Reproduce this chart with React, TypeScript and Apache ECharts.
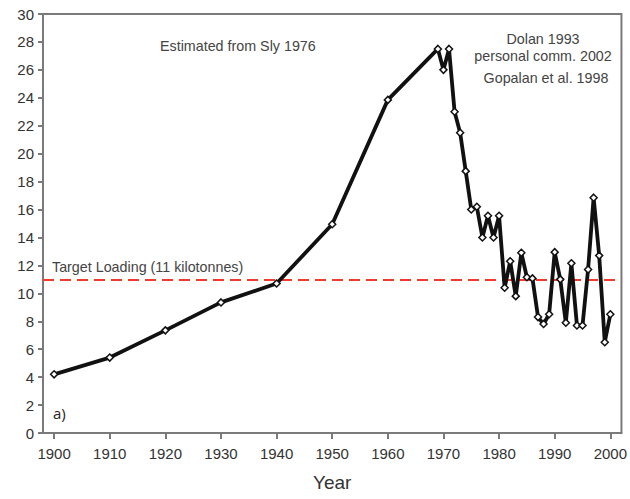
import React, { useEffect, useRef } from "react";
import * as echarts from "echarts";

const years = [1900, 1910, 1920, 1930, 1940, 1950, 1960, 1969, 1970, 1971, 1972, 1973, 1974, 1975, 1976, 1977, 1978, 1979, 1980, 1981, 1982, 1983, 1984, 1985, 1986, 1987, 1988, 1989, 1990, 1991, 1992, 1993, 1994, 1995, 1996, 1997, 1998, 1999, 2000];
const loading = [4.2, 5.4, 7.35, 9.35, 10.7, 14.95, 23.85, 27.5, 26.0, 27.5, 23.0, 21.5, 18.75, 16.0, 16.2, 14.0, 15.55, 14.0, 15.55, 10.4, 12.3, 9.8, 12.9, 11.15, 11.07, 8.3, 7.8, 8.5, 12.95, 11.0, 7.9, 12.15, 7.7, 7.7, 11.7, 16.85, 12.7, 6.5, 8.5];
const xTicks = [1900, 1910, 1920, 1930, 1940, 1950, 1960, 1970, 1980, 1990, 2000];
const targetLoading = 11;

const FONT = "'Liberation Sans', Arial, sans-serif";

export default function App() {
  const ref = useRef<HTMLDivElement>(null);
  useEffect(() => {
    if (!ref.current) return;
    const chart = echarts.init(ref.current, null, { renderer: "svg" });
    const data = years.map((y, i) => [y, loading[i]]);
    chart.setOption({
      animation: false,
      backgroundColor: "#ffffff",
      grid: {
        left: 43,
        top: 14,
        right: 6,
        bottom: 66,
        show: true,
        borderColor: "#7a7a7a",
        borderWidth: 2,
        backgroundColor: "transparent",
      },
      xAxis: {
        type: "value",
        min: 1898,
        max: 2002,
        name: "Year",
        nameLocation: "middle",
        nameGap: 40,
        nameTextStyle: { fontFamily: FONT, fontSize: 19, color: "#333" },
        splitLine: { show: false },
        axisLine: { show: true, lineStyle: { color: "#7a7a7a", width: 2 } },
        axisTick: { show: true, length: 6, lineStyle: { color: "#7a7a7a", width: 2 }, customValues: xTicks },
        axisLabel: { fontFamily: FONT, fontSize: 15, color: "#333", margin: 13, customValues: xTicks, formatter: (v: number) => String(v) },
      },
      yAxis: {
        type: "value",
        min: 0,
        max: 30,
        interval: 2,
        splitLine: { show: false },
        axisLine: { show: true, lineStyle: { color: "#7a7a7a", width: 2 } },
        axisTick: { show: true, length: 5, lineStyle: { color: "#7a7a7a", width: 2 } },
        axisLabel: { fontFamily: FONT, fontSize: 15, color: "#333", margin: 9 },
      },
      series: [
        {
          type: "line",
          data,
          lineStyle: { color: "#111", width: 3.8 },
          symbol: "diamond",
          symbolSize: 7,
          itemStyle: { color: "#ffffff", borderColor: "#111", borderWidth: 1.5 },
          z: 3,
          markLine: {
            silent: true,
            symbol: "none",
            label: { show: false },
            lineStyle: { color: "#f23b30", width: 2, type: [11, 6] },
            data: [{ yAxis: targetLoading }],
            z: 2,
          },
        },
      ],
      graphic: [
        { type: "text", left: 160, top: 39, style: { text: "Estimated from Sly 1976", fontFamily: FONT, fontSize: 14.3, fill: "#444" } },
        { type: "text", x: 543, y: 39, style: { text: "Dolan 1993", fontFamily: FONT, fontSize: 14.3, fill: "#444", align: "center", verticalAlign: "middle" } },
        { type: "text", x: 543, y: 56, style: { text: "personal comm. 2002", fontFamily: FONT, fontSize: 14.3, fill: "#444", align: "center", verticalAlign: "middle" } },
        { type: "text", x: 546, y: 78, style: { text: "Gopalan et al. 1998", fontFamily: FONT, fontSize: 14.3, fill: "#444", align: "center", verticalAlign: "middle" } },
        { type: "text", x: 52, y: 267, style: { text: "Target Loading (11 kilotonnes)", fontFamily: FONT, fontSize: 14.3, fill: "#444", verticalAlign: "middle" } },
        { type: "text", x: 53, y: 413, style: { text: "a)", fontFamily: "'Open Sans', sans-serif", fontSize: 15, fill: "#222", verticalAlign: "middle" } },
      ],
    });
    return () => chart.dispose();
  }, []);
  return <div ref={ref} style={{ width: 630, height: 499, position: "absolute", left: 0, top: 0 }} />;
}
